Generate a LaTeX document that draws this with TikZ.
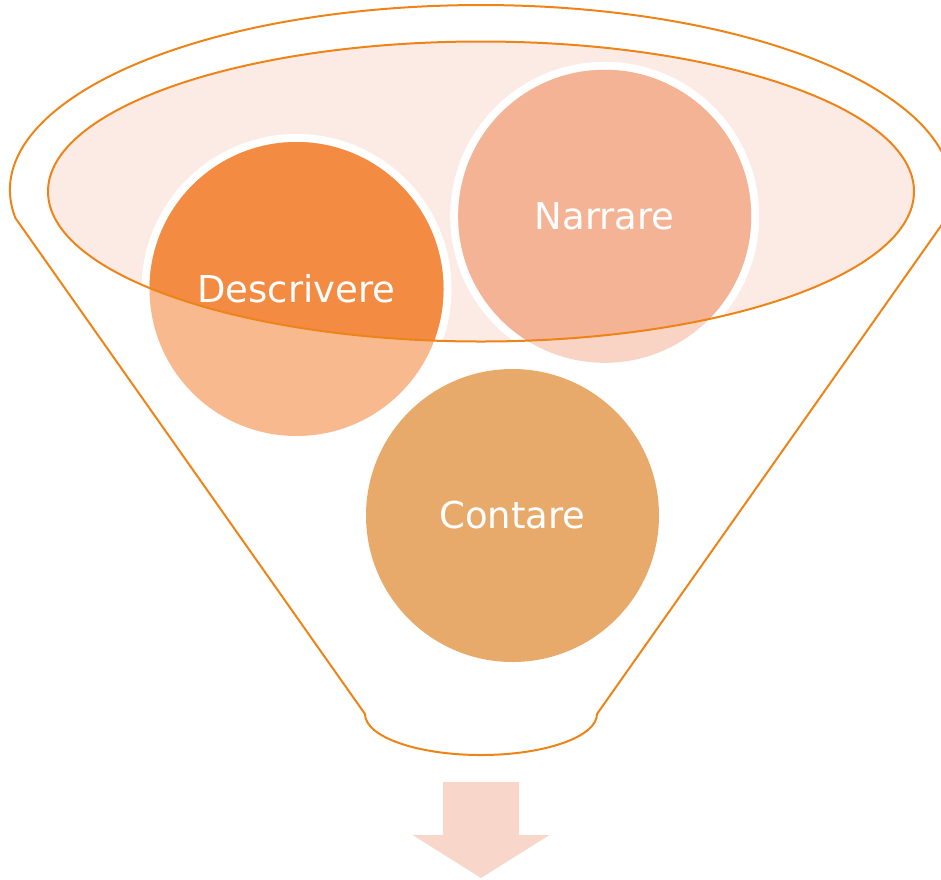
\documentclass[tikz,border=0pt]{standalone}
\usepackage{fontspec}
\setmainfont{DejaVu Sans}
\definecolor{lineor}{HTML}{EE8418}
\definecolor{ellfill}{HTML}{FCEAE4}
\definecolor{descdark}{HTML}{F38B43}
\definecolor{desclight}{HTML}{F8B98E}
\definecolor{narrdark}{HTML}{F4B394}
\definecolor{narrlight}{HTML}{F9D4C4}
\definecolor{contcol}{HTML}{E8AA6A}
\definecolor{arrowcol}{HTML}{F8D7CA}
\begin{document}
\begin{tikzpicture}[x=1pt,y=-1pt,
  funnelline/.style={draw=lineor, line width=2pt, line join=round},
  lbl/.style={text=white, font=\fontsize{37}{44}\selectfont, inner sep=0pt},
]
\useasboundingbox (0,0) rectangle (941,879);
% outer funnel outline
\draw[funnelline] (15.4,218) arc[start angle=171.3, end angle=368.7, x radius=471, y radius=185]
  -- (597,714) arc[start angle=0, end angle=180, x radius=116, y radius=41] -- cycle;
% inner ellipse fill
\fill[ellfill] (481,191.5) ellipse[x radius=433, y radius=150];
% Contare
\fill[contcol] (512.5,515.5) circle[radius=146.5];
% Descrivere
\fill[white] (296.5,289) circle[radius=155];
\fill[desclight] (296.5,289) circle[radius=147];
\begin{scope}
  \clip (481,191.5) ellipse[x radius=433, y radius=150];
  \fill[descdark] (296.5,289) circle[radius=147];
\end{scope}
% Narrare
\fill[white] (604.7,216.3) circle[radius=154.5];
\fill[narrlight] (604.7,216.3) circle[radius=146.5];
\begin{scope}
  \clip (481,191.5) ellipse[x radius=433, y radius=150];
  \fill[narrdark] (604.7,216.3) circle[radius=146.5];
\end{scope}
% inner ellipse outline on top
\draw[funnelline] (481,191.5) ellipse[x radius=433, y radius=150];
% labels
\node[lbl] (desc) at (296.5,289) {Descrivere};
\node[lbl] (narr) at (604.7,216.3) {Narrare};
\node[lbl] (cont) at (512.5,515.5) {Contare};
% arrow
\fill[arrowcol] (443,782) -- (519,782) -- (519,835) -- (549.5,835) -- (481,878) -- (412.5,835) -- (443,835) -- cycle;
\end{tikzpicture}
\end{document}
